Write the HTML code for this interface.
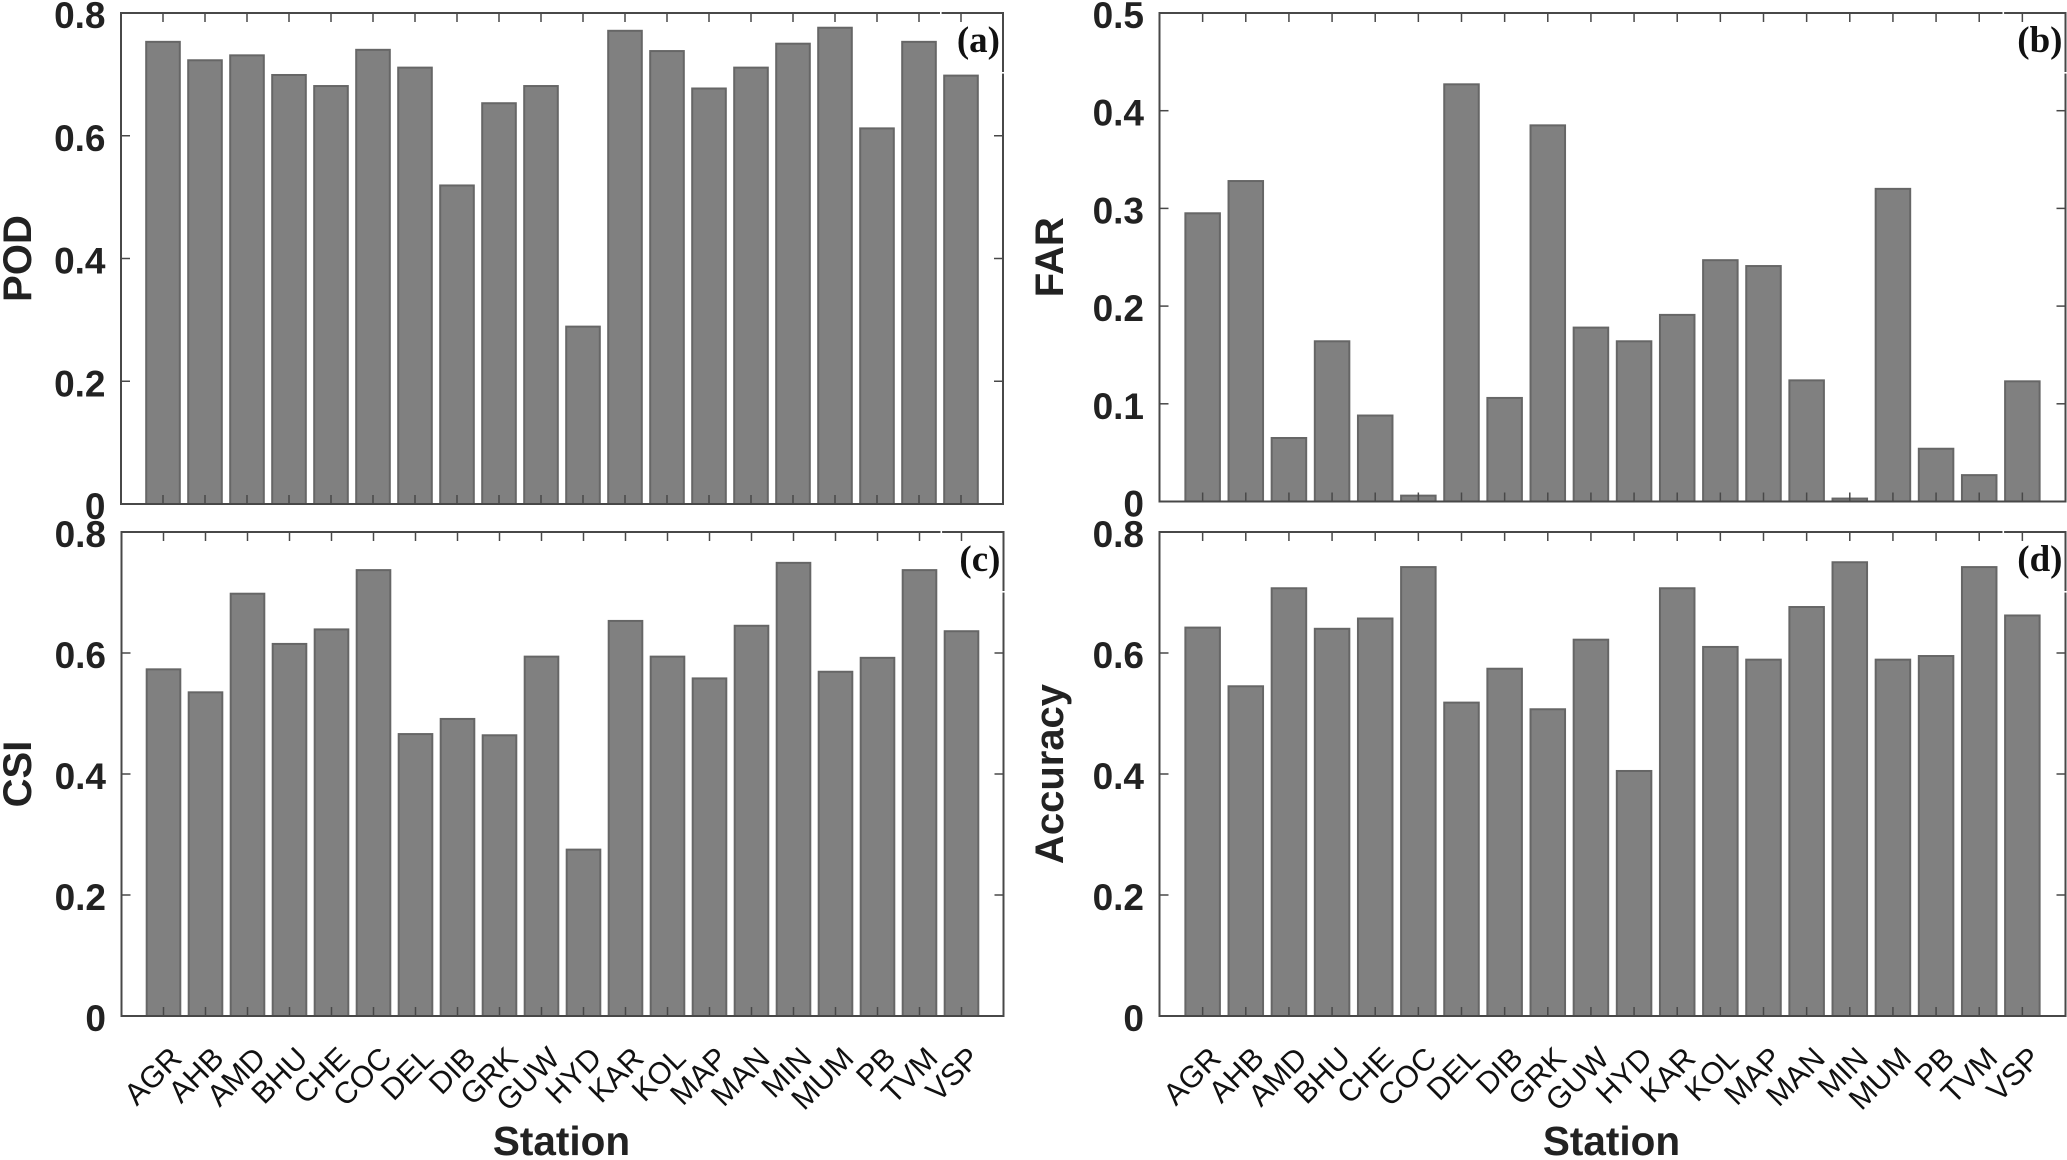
<!DOCTYPE html>
<html lang="en">
<head>
<meta charset="utf-8">
<title>Station verification scores</title>
<style>
html,body{margin:0;padding:0;background:#fff;width:2067px;height:1160px;overflow:hidden}
svg{display:block}
text{font-family:"Liberation Sans",Arial,sans-serif}
</style>
</head>
<body>
<svg id="chart" xmlns="http://www.w3.org/2000/svg" width="2067" height="1160" viewBox="0 0 2067 1160"></svg>
<script>
const stations = ["AGR","AHB","AMD","BHU","CHE","COC","DEL","DIB","GRK","GUW","HYD","KAR","KOL","MAP","MAN","MIN","MUM","PB","TVM","VSP"];
const podValues = [0.753,0.723,0.731,0.699,0.681,0.740,0.711,0.519,0.653,0.681,0.289,0.771,0.738,0.677,0.711,0.750,0.776,0.612,0.753,0.698];
const farValues = [0.295,0.328,0.065,0.164,0.088,0.006,0.427,0.106,0.385,0.178,0.164,0.191,0.247,0.241,0.124,0.003,0.320,0.054,0.027,0.123];
const csiValues = [0.573,0.535,0.698,0.615,0.639,0.737,0.466,0.491,0.464,0.594,0.275,0.653,0.594,0.558,0.645,0.749,0.569,0.592,0.737,0.636];
const accuracyValues = [0.642,0.545,0.707,0.640,0.657,0.742,0.518,0.574,0.507,0.622,0.405,0.707,0.610,0.589,0.676,0.750,0.589,0.595,0.742,0.662];
const ticks08 = [0,0.2,0.4,0.6,0.8];
const ticks05 = [0,0.1,0.2,0.3,0.4,0.5];
const axisColor = "#484848";
const panels = [
  {id:"a",title:"POD",values:podValues,ticks:ticks08,yMax:0.8,left:121,right:1003,top:13,bottom:504,letter:"(a)",xLabels:false,titleX:31},
  {id:"b",title:"FAR",values:farValues,ticks:ticks05,yMax:0.5,left:1159.5,right:2065.5,top:13,bottom:501.5,letter:"(b)",xLabels:false,titleX:1063},
  {id:"c",title:"CSI",values:csiValues,ticks:ticks08,yMax:0.8,left:121.5,right:1003.5,top:532,bottom:1016,letter:"(c)",xLabels:true,titleX:31},
  {id:"d",title:"Accuracy",values:accuracyValues,ticks:ticks08,yMax:0.8,left:1159.5,right:2065.5,top:532,bottom:1016,letter:"(d)",xLabels:true,titleX:1063}
];
const NS = "http://www.w3.org/2000/svg";
const svg = document.getElementById("chart");
function make(parent, tag, attrs, text) {
  const el = document.createElementNS(NS, tag);
  for (const k in attrs) el.setAttribute(k, attrs[k]);
  if (text !== undefined) el.textContent = text;
  parent.appendChild(el);
  return el;
}
function tickText(v) { return v === 0 ? "0" : v.toFixed(1); }
panels.forEach(function (p) {
  const xScale = function (i) { return p.left + (i + 1) * (p.right - p.left) / 21; };
  const yScale = function (v) { return p.bottom - v / p.yMax * (p.bottom - p.top); };
  const barW = 0.8 * (p.right - p.left) / 21;
  const g = make(svg, "g", {});
  
  

  p.values.forEach(function (v, i) {
    const top = yScale(v);
    const bar = make(g, "rect", {x:xScale(i) - barW / 2, y:top, width:barW, height:p.bottom - top, fill:"#808080", stroke:"#666666", "stroke-width":2});
    
    
  });

  const frame = make(g, "rect", {x:p.left, y:p.top, width:p.right - p.left, height:p.bottom - p.top, fill:"none", stroke:axisColor, "stroke-width":2});
  
  

  p.ticks.forEach(function (t) {
    const y = yScale(t);
    if (t > 0 && t < p.yMax) {
      const tl = make(g, "line", {x1:p.left, x2:p.left + 9, y1:y, y2:y, stroke:axisColor, "stroke-width":1.5});
      
      
      const tr = make(g, "line", {x1:p.right, x2:p.right - 9, y1:y, y2:y, stroke:axisColor, "stroke-width":1.5});
      
      
    }
    const lab = make(g, "text", {x:105.5 + (p.left - 121), y:y + 15, "text-anchor":"end", "font-size":37, "font-weight":"bold", fill:"#222222"}, tickText(t));
    
    
  });

  stations.forEach(function (s, i) {
    const x = xScale(i);
    const tb = make(g, "line", {x1:x, x2:x, y1:p.bottom, y2:p.bottom - 9, stroke:axisColor, "stroke-width":1.5});
    
    
    const tt = make(g, "line", {x1:x, x2:x, y1:p.top, y2:p.top + 9, stroke:axisColor, "stroke-width":1.5});
    
    
    if (p.xLabels) {
      const lx = x + 20;
      const ly = p.bottom + 44;
      const xl = make(g, "text", {x:lx, y:ly, "text-anchor":"end", "font-size":30.5, fill:"#111111", transform:"rotate(-45 " + lx + " " + ly + ")"}, s);
      
      
    }
  });

  const gapTop = make(g, "rect", {x:p.right - 63, y:p.top - 1.5, width:1.6, height:3, fill:"#ffffff"});
  
  
  const gapRight = make(g, "rect", {x:p.right - 1.5, y:p.top + 59, width:3, height:1.6, fill:"#ffffff"});
  
  

  const letter = make(g, "text", {x:p.right - 3, y:p.top + 39, "text-anchor":"end", "font-size":37, "font-weight":"bold", fill:"#111111", style:"font-family:'Liberation Serif',serif"}, p.letter);
  
  

  const ty = (p.top + p.bottom) / 2;
  const yt = make(g, "text", {x:p.titleX, y:ty, "text-anchor":"middle", "font-size":40, "font-weight":"bold", fill:"#222222", transform:"rotate(-90 " + p.titleX + " " + ty + ")"}, p.title);
  
  

  if (p.xLabels) {
    const xt = make(g, "text", {x:(p.left + p.right) / 2 - 1, y:1155, "text-anchor":"middle", "font-size":40.5, "font-weight":"bold", fill:"#222222"}, "Station");
    
    
  }
});
</script>
</body>
</html>
